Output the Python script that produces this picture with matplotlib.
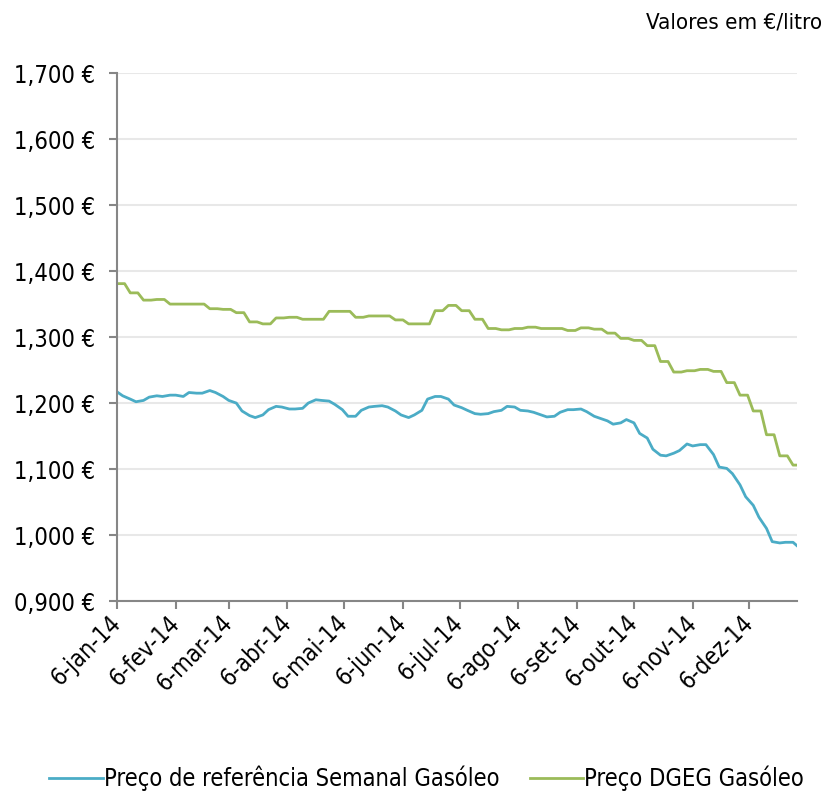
import numpy as np
import pandas as pd
import matplotlib
matplotlib.use('Agg')
import matplotlib.pyplot as plt
import matplotlib.ticker as mticker

plt.rcParams['font.family'] = ['DejaVu Sans']
plt.rcParams['font.stretch'] = 'condensed'

# Preço DGEG Gasóleo - um valor por semana (segunda a sexta)
semanas = pd.date_range('2014-01-06', '2014-12-29', freq='W-MON')
dgeg = [1.381, 1.367, 1.356, 1.357, 1.350, 1.350, 1.350, 1.343, 1.342,
        1.337, 1.323, 1.320, 1.329, 1.330, 1.327, 1.327, 1.339, 1.339,
        1.330, 1.332, 1.332, 1.326, 1.320, 1.320, 1.340, 1.348,
        1.340, 1.327, 1.313, 1.311, 1.313, 1.315, 1.313, 1.313, 1.310,
        1.314, 1.312, 1.306, 1.298, 1.295, 1.287, 1.263, 1.247,
        1.249, 1.251, 1.248, 1.231, 1.212, 1.188, 1.152, 1.120, 1.106]

# Preço de referência Semanal Gasóleo (segundas e quintas)
ref_datas = sorted(list(pd.date_range('2014-01-06', '2014-12-29', freq='W-MON'))
                   + list(pd.date_range('2014-01-09', '2014-12-25', freq='W-THU'))
                   + [pd.Timestamp('2014-12-31')])
ref = [1.217, 1.211, 1.206, 1.202, 1.204, 1.209, 1.211, 1.210, 1.212, 1.212,
       1.210, 1.216, 1.215, 1.215, 1.219, 1.216, 1.210, 1.204, 1.200, 1.188,
       1.181, 1.178, 1.182, 1.190, 1.195, 1.194, 1.191, 1.191, 1.192, 1.200,
       1.205, 1.204, 1.203, 1.198, 1.190, 1.180, 1.180, 1.189, 1.194, 1.195,
       1.196, 1.194, 1.188, 1.182, 1.178, 1.182, 1.189, 1.206, 1.210, 1.210,
       1.206, 1.197, 1.193, 1.189, 1.184, 1.183, 1.184, 1.187, 1.189, 1.195,
       1.194, 1.189, 1.188, 1.186, 1.182, 1.179, 1.180, 1.186, 1.190, 1.190,
       1.191, 1.187, 1.180, 1.177, 1.173, 1.168, 1.170, 1.175, 1.170, 1.154,
       1.147, 1.130, 1.121, 1.120, 1.124, 1.128, 1.138, 1.135, 1.137, 1.137,
       1.122, 1.103, 1.101, 1.093, 1.076, 1.058, 1.045, 1.027, 1.010, 0.990,
       0.988, 0.989, 0.989, 0.984]

meses = ['jan', 'fev', 'mar', 'abr', 'mai', 'jun', 'jul', 'ago', 'set', 'out', 'nov', 'dez']
tick_datas = [pd.Timestamp(2014, m, 6) for m in range(1, 13)]
tick_labels = ['6-%s-14' % m for m in meses]

# expandir os valores semanais DGEG para dias úteis
dias = []
valores = []
for d, v in zip(semanas, dgeg):
    for i in range(5):
        dia = d + pd.Timedelta(days=i)
        if dia <= pd.Timestamp('2014-12-31'):
            dias.append(dia)
            valores.append(v)

azul = '#4bacc6'
verde = '#9bbb59'

fig = plt.figure(figsize=(8.27, 7.95), dpi=100)
ax = fig.add_axes([0.1415, 0.244, 0.822, 0.664])

ax.plot(ref_datas, ref, color=azul, lw=2.0, label='Preço de referência Semanal Gasóleo')
ax.plot(dias, valores, color=verde, lw=2.0, label='Preço DGEG Gasóleo')

ax.set_ylim(0.9, 1.7)
ax.set_xlim(pd.Timestamp('2014-01-06'), pd.Timestamp('2014-12-31'))
ax.yaxis.set_major_locator(mticker.MultipleLocator(0.1))
ax.yaxis.set_major_formatter(mticker.FuncFormatter(lambda v, p: ('%.3f €' % v).replace('.', ',')))
ax.set_xticks(tick_datas)
ax.set_xticklabels(tick_labels, rotation=45, ha='right', va='center', rotation_mode='anchor')

ax.grid(axis='y', color='#e8e8e8', lw=1.5)
ax.set_axisbelow(True)
for s in ['top', 'right']:
    ax.spines[s].set_visible(False)
for s in ['left', 'bottom']:
    ax.spines[s].set_color('#868686')
    ax.spines[s].set_linewidth(1.5)
ax.tick_params(axis='both', colors='#868686', width=1.5, length=6, labelcolor='black', labelsize=17)
ax.tick_params(axis='y', pad=10)
ax.tick_params(axis='x', pad=7)

fig.text(0.994, 0.972, 'Valores em €/litro', ha='right', va='center', fontsize=16)

fig.legend(loc='center', bbox_to_anchor=(0.516, 0.021), ncol=2, frameon=False, fontsize=17,
           handlelength=2.25, columnspacing=1.3, handletextpad=0.05)

fig.savefig('out.png', dpi=100)
